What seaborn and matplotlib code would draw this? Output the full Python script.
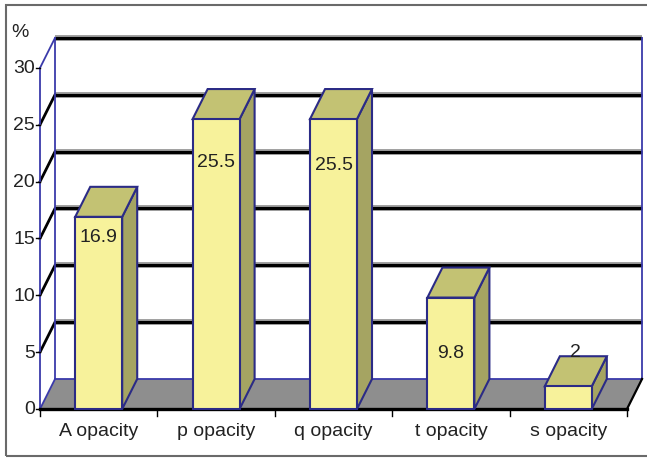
import matplotlib

matplotlib.use("Agg", force=True)
import matplotlib.pyplot as plt
from matplotlib.patches import Polygon, Rectangle
import seaborn as sns

CATEGORIES = ["A opacity", "p opacity", "q opacity", "t opacity", "s opacity"]
VALUES = [16.9, 25.5, 25.5, 9.8, 2.0]
VALUE_TEXT = ["16.9", "25.5", "25.5", "9.8", "2"]
Y_TICKS = [0, 5, 10, 15, 20, 25, 30]

# where the value labels sit (value units)
LABEL_Y = [15.2, 21.8, 21.5, 5.0, 5.1]

FRONT = "#f7f29b"
TOP = "#c3c273"
SIDE = "#a5a462"
EDGE = "#2b2b86"
AXIS_BLUE = "#3a3aaa"
FLOOR = "#8e8e8e"
FS = 14

# 3-D depth offset in data units (category / value)
DX = 0.128
DY = 2.64
PX_X = 117.4  # pixels per category
PX_Y = 11.37  # pixels per value unit


def draw_walls(ax):
    x0, x1 = -0.5, len(CATEGORIES) - 0.5
    top = Y_TICKS[-1]
    ax.add_patch(Rectangle((x0 + DX, DY), x1 - x0, top, facecolor="white", edgecolor="none", zorder=0))
    ax.add_patch(Polygon([(x0, 0), (x1, 0), (x1 + DX, DY), (x0 + DX, DY)],
                         closed=True, facecolor=FLOOR, edgecolor="none", zorder=1))
    for v in Y_TICKS[1:]:
        xs = [x0, x0 + DX, x1 + DX]
        ys = [v, v + DY, v + DY]
        ax.plot(xs[1:], ys[1:], color="#9a9a9a", lw=4.2, zorder=1, solid_capstyle="butt")
        ax.plot(xs[1:], ys[1:], color="black", lw=2.2, zorder=1.1, solid_capstyle="butt")
        if v == top:
            ax.plot(xs[:2], ys[:2], color=AXIS_BLUE, lw=1.3, zorder=1.2)
        else:
            ax.plot(xs[:2], ys[:2], color="black", lw=2.0, zorder=1.2)
    # blue wall edges
    ax.plot([x0, x0], [0, top], color=AXIS_BLUE, lw=1.3, zorder=1.3)
    ax.plot([x0 + DX, x0 + DX], [DY, top + DY], color=AXIS_BLUE, lw=1.3, zorder=1.3)
    ax.plot([x1 + DX, x1 + DX], [DY, top + DY], color=AXIS_BLUE, lw=1.3, zorder=1.3)
    ax.plot([x0, x0 + DX], [0, DY], color=AXIS_BLUE, lw=1.3, zorder=1.3)
    ax.plot([x0 + DX, x1 + DX], [DY, DY], color=AXIS_BLUE, lw=1.3, zorder=1.3)
    # floor front edge
    ax.plot([x0, x1], [0, 0], color="black", lw=2.4, zorder=1.4)
    ax.plot([x1, x1 + DX], [0, DY], color="black", lw=1.6, zorder=1.4)
    # ticks
    for k in range(len(CATEGORIES) + 1):
        ax.plot([x0 + k, x0 + k], [0, -7 / PX_Y], color="black", lw=1.0, zorder=1.4)
    for v in Y_TICKS:
        ax.plot([x0 - 4 / PX_X, x0], [v, v], color="black", lw=1.0, zorder=1.4)
        ax.text(x0 - 5 / PX_X, v, str(v), ha="right", va="center", fontsize=FS, color="#222222")
    ax.text(x0 - 20 / PX_X, top + 3.2, "%", ha="center", va="center", fontsize=FS, color="#222222")


def draw_bar_faces(ax):
    bars = [p for p in ax.patches if getattr(p, "_is_bar", False)]
    for p in bars:
        x, w, h = p.get_x(), p.get_width(), p.get_height()
        top = Polygon([(x, h), (x + w, h), (x + w + DX, h + DY), (x + DX, h + DY)],
                      closed=True, facecolor=TOP, edgecolor=EDGE, lw=1.5, zorder=3.1)
        side = Polygon([(x + w, 0), (x + w + DX, DY), (x + w + DX, h + DY), (x + w, h)],
                       closed=True, facecolor=SIDE, edgecolor=EDGE, lw=1.5, zorder=3.0)
        ax.add_patch(side)
        ax.add_patch(top)


def main() -> None:
    plt.rcParams["font.family"] = ["Liberation Sans", "DejaVu Sans"]
    fig = plt.figure(figsize=(6.47, 4.60), dpi=100)
    fig.patch.set_facecolor("white")
    ax = fig.add_axes([0, 0, 1, 1])

    sns.barplot(x=CATEGORIES, y=VALUES, width=0.4, color=FRONT, edgecolor=EDGE,
                linewidth=1.5, saturation=1, ax=ax)
    for p in ax.patches:
        p._is_bar = True
        p.set_zorder(3.2)

    draw_walls(ax)
    draw_bar_faces(ax)

    for i, (txt, ly) in enumerate(zip(VALUE_TEXT, LABEL_Y)):
        xoff = DX / 2 if VALUES[i] < LABEL_Y[i] else 0
        ax.text(i + xoff, ly, txt, ha="center", va="center", fontsize=FS, color="#222222", zorder=5)

    for i, cat in enumerate(CATEGORIES):
        ax.text(i, -22 / PX_Y, cat, ha="center", va="center", fontsize=FS, color="#222222")

    ax.set_xlim(-0.5 - 40 / PX_X, -0.5 + 607 / PX_X)
    ax.set_ylim(-50 / PX_Y, 410 / PX_Y)
    ax.axis("off")

    ax.add_patch(Rectangle((6 / 647, 3 / 460), 645 / 647, 451 / 460, transform=ax.transAxes,
                           fill=False, edgecolor="#6a6a6a", lw=1.5, zorder=6, clip_on=False))

    fig.savefig("out.png", dpi=100)
    plt.close(fig)


if __name__ == "__main__":
    main()
